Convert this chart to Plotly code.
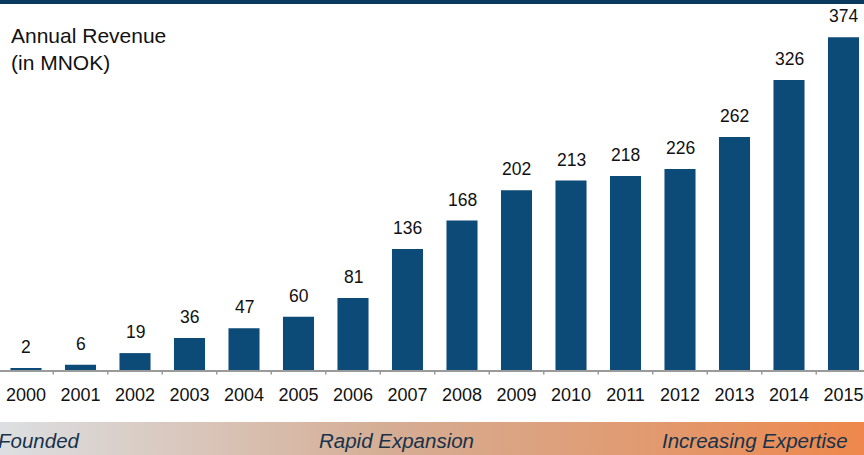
import plotly.graph_objects as go

years = [str(y) for y in range(2000, 2016)]
revenue = [2, 6, 19, 36, 47, 60, 81, 136, 168, 202, 213, 218, 226, 262, 326, 374]
phase_labels = ["Founded", "Rapid Expansion", "Increasing Expertise"]
phase_px = [0, 318, 849]
phase_shift = [-3, 0, 0]
phase_anchor = ["left", "left", "right"]
title_text = "Annual Revenue<br>(in MNOK)"

BAR = "#0C4A78"
FONT = "Liberation Sans, Arial"
W, H = 864, 455
base_px = 370
px_per_unit = 332.7 / 374
plot_h = base_px

fig = go.Figure()
fig.add_trace(go.Bar(
    x=list(range(len(years))), y=revenue, marker=dict(color=BAR, line=dict(width=0)),
    width=0.57, hoverinfo="skip", showlegend=False,
))

for i, v in enumerate(revenue):
    fig.add_annotation(x=i, y=v, text=str(v), showarrow=False, yanchor="middle",
                       yshift=21, font=dict(family=FONT, size=17.5, color="#111111"))

# gradient band (second axis pair)
fig.add_trace(go.Scatter(
    x=[0, 1, 1, 0, 0], y=[0, 0, 1, 1, 0], xaxis="x2", yaxis="y2",
    mode="lines", line=dict(width=0), fill="toself",
    fillgradient=dict(type="horizontal",
                      colorscale=[[0, "#DCDFE2"], [0.45, "#D5AD94"], [0.75, "#E19A70"], [1, "#EE874B"]]),
    hoverinfo="skip", showlegend=False,
))
for lbl, xp, sh, anc in zip(phase_labels, phase_px, phase_shift, phase_anchor):
    fig.add_annotation(x=xp / W, y=0.5, xref="x2", yref="y2", text=lbl, showarrow=False,
                       xanchor=anc, yanchor="middle", yshift=-2, xshift=sh, borderpad=0,
                       font=dict(family=FONT, size=20.5, color="#17324A", style="italic"))

# top dark line
fig.add_shape(type="rect", xref="paper", yref="paper", x0=0, x1=1, y0=1 - 4 / H, y1=1.02,
              fillcolor="#0B3A60", line=dict(width=0), layer="above")

# title
fig.add_annotation(xref="paper", yref="paper", x=0, y=1, xshift=9, yshift=-22,
                   text=title_text, showarrow=False, xanchor="left", yanchor="top", align="left",
                   font=dict(family=FONT, size=21, color="#111111"))

left = -26 / 54.5
right = (W - 26) / 54.5
ymax = base_px / px_per_unit

fig.update_layout(
    width=W, height=H,
    margin=dict(l=0, r=0, t=0, b=0),
    paper_bgcolor="white", plot_bgcolor="white",
    xaxis=dict(range=[left, right], tickmode="array", tickvals=list(range(len(years))),
               ticktext=years, showgrid=False, zeroline=False,
               showline=True, linecolor="#9A9A9A", linewidth=1.5,
               ticks="", tickfont=dict(family=FONT, size=18, color="#111111"),
               ticklabelstandoff=8, fixedrange=True, anchor="y"),
    yaxis=dict(range=[0, ymax], domain=[1 - base_px / H, 1], visible=False, fixedrange=True),
    xaxis2=dict(domain=[0, 1], range=[0, 1], visible=False, anchor="y2"),
    yaxis2=dict(domain=[0, 33 / H], range=[0, 1], visible=False, anchor="x2"),
)

# ticks at category boundaries
for i in range(1, len(years)):
    fig.add_shape(type="line", xref="x", yref="y domain", x0=i - 0.5, x1=i - 0.5,
                  y0=0, y1=-4.5 / plot_h, line=dict(color="#9A9A9A", width=1.5))

fig.write_html("out.html")
